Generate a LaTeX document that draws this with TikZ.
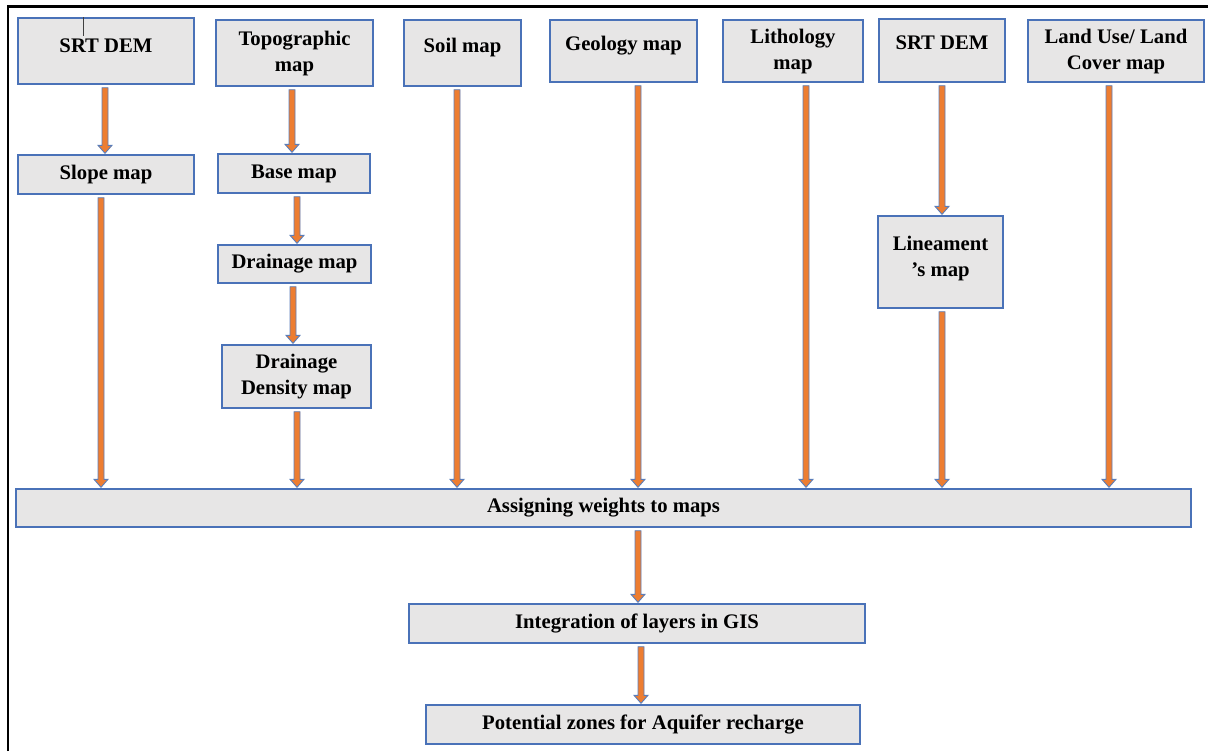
\documentclass[tikz,border=0pt]{standalone}
\usepackage{fontspec}
\setmainfont{Liberation Serif}
\usetikzlibrary{calc}
\definecolor{boxfill}{HTML}{E7E6E6}
\definecolor{boxline}{HTML}{4A72B8}
\definecolor{arrfill}{HTML}{ED7D31}
\definecolor{arrline}{HTML}{5A7DBA}
\tikzset{
  box/.style={draw=boxline, line width=0.7pt, fill=boxfill, inner sep=0pt,
    font=\fontsize{10.35}{13}\selectfont\bfseries, align=center},
  arr/.style={fill=arrfill, draw=arrline, line width=0.45pt, line join=miter},
}
% raised text block
\newcommand\up[2]{\raisebox{#1}{\begin{tabular}{@{}c@{}}#2\end{tabular}}}
% block arrow: #1 start anchor, #2 end anchor, #3 x (px)
\newcommand\barrow[3]{%
  \coordinate (bx) at (#3,0);
  \path ($(#1 -| bx)+(0,3)$) coordinate (bs) ($(#2 -| bx)+(0,-1)$) coordinate (be);
  \filldraw[arr] ($(bs)+(-3,0)$) -- ($(be)+(-3,-8)$) -- ($(be)+(-7,-8)$) -- (be)
     -- ($(be)+(7,-8)$) -- ($(be)+(3,-8)$) -- ($(bs)+(3,0)$) -- cycle;}
% box from pixel corners
\newcommand\pbox[6]{% name, x1, y1, x2, y2, text
  \node[box, minimum width={(#4-#2)*0.5pt}, minimum height={(#5-#3)*0.5pt}]
    (#1) at ({(#2+#4)/2},{(#3+#5)/2}) {#6};}
\begin{document}
\begin{tikzpicture}[x=0.5pt,y=-0.5pt]
\useasboundingbox (0,0) rectangle (1208,751);
% frame
\draw[line width=1.1pt] (8,751) -- (8,6.5) -- (1208,6.5);
% top row
\pbox{srtA}{18}{18}{194}{84}{\up{8pt}{SRT DEM}}
\pbox{topo}{216}{20}{373}{86}{\up{3pt}{Topographic\\map}}
\pbox{soil}{404}{20}{521}{86}{\up{10pt}{Soil map}}
\pbox{geol}{550}{20}{697}{82}{\up{10pt}{Geology map}}
\pbox{lith}{723}{20}{863}{82}{\up{1pt}{Lithology\\map}}
\pbox{srtB}{879}{19}{1005}{82}{\up{10pt}{SRT DEM}}
\pbox{lulc}{1028}{20}{1204}{82}{\up{-1.5pt}{Land Use/ Land\\Cover map}}
% second level
\pbox{slope}{18}{155}{194}{194}{\up{-1pt}{Slope map}}
\pbox{base}{218}{154}{370}{193}{Base map}
\pbox{drain}{218}{245}{371}{283}{Drainage map}
\pbox{dd}{222}{345}{371}{408}{\up{0pt}{Drainage\\Density map}}
\pbox{lin}{878}{216}{1003}{308}{\up{14pt}{Lineament\\'s map}}
% bottom
\pbox{assign}{16}{489}{1191}{527}{Assigning weights to maps}
\pbox{integ}{409}{604}{865}{643}{Integration of layers in GIS}
\pbox{pot}{426}{705}{860}{744}{Potential zones for Aquifer recharge}
% stray tick
\draw[line width=0.4pt, black!75] (83.5,17) -- (83.5,36);
% arrows
\barrow{srtA.south}{slope.north}{105}
\barrow{slope.south}{assign.north}{101}
\barrow{topo.south}{base.north}{292}
\barrow{base.south}{drain.north}{297}
\barrow{drain.south}{dd.north}{293}
\barrow{dd.south}{assign.north}{297}
\barrow{soil.south}{assign.north}{457}
\barrow{geol.south}{assign.north}{638}
\barrow{lith.south}{assign.north}{806}
\barrow{srtB.south}{lin.north}{942}
\barrow{lin.south}{assign.north}{942}
\barrow{lulc.south}{assign.north}{1109}
\barrow{assign.south}{integ.north}{638}
\barrow{integ.south}{pot.north}{641}
\end{tikzpicture}
\end{document}
